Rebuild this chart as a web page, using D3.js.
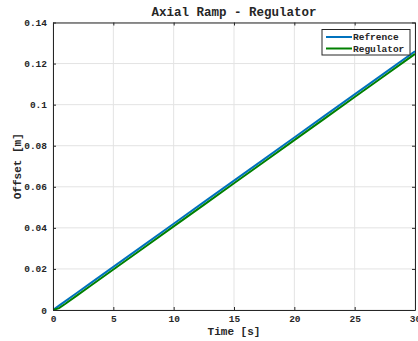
<!DOCTYPE html>
<html>
<head>
<meta charset="utf-8">
<script src="https://cdn.jsdelivr.net/npm/d3@7"></script>
<style>
  html, body { margin: 0; padding: 0; background: #fff; overflow: hidden; }
  svg { display: block; }
  text { font-family: "Liberation Mono", "DejaVu Sans Mono", monospace; font-weight: bold; fill: #262626; }
</style>
</head>
<body>
<svg id="chart" width="418" height="341"></svg>
<script>
// Simulation time samples [s]
const time = [0, 0.5, 1, 2, 3, 5, 7.5, 10, 12.5, 15, 17.5, 20, 22.5, 25, 27.5, 30];
// Commanded axial ramp [m]
const reference = [0, 0.0021, 0.0042, 0.0084, 0.0126, 0.021, 0.0315, 0.042, 0.0525, 0.063, 0.0735, 0.084, 0.0945, 0.105, 0.1155, 0.126];
// Regulated axial offset [m]
const regulator = [0, 0.0009, 0.0029, 0.0071, 0.0113, 0.0197, 0.0302, 0.0407, 0.0512, 0.0617, 0.0722, 0.0827, 0.0932, 0.1037, 0.1142, 0.1247];
const xTicks = [0, 5, 10, 15, 20, 25, 30];
const yTicks = [0, 0.02, 0.04, 0.06, 0.08, 0.1, 0.12, 0.14];
const seriesNames = ["Refrence", "Regulator"];
const seriesColors = ["#0072BD", "#008000"];

const svg = d3.select("#chart");
const m = { left: 53, right: 415, top: 22.5, bottom: 310 };

const x = d3.scaleLinear().domain([0, 30]).range([m.left, m.right]);
const y = d3.scaleLinear().domain([0, 0.14]).range([m.bottom, m.top]);

// grid
const grid = svg.append("g");
grid.selectAll(".gx").data(xTicks).join("line")
  .attr("x1", d => x(d)).attr("x2", d => x(d))
  .attr("y1", m.top).attr("y2", m.bottom)
  .attr("stroke", "#e3e3e3").attr("stroke-width", 1);
grid.selectAll(".gy").data(yTicks).join("line")
  .attr("y1", d => y(d)).attr("y2", d => y(d))
  .attr("x1", m.left).attr("x2", m.right)
  .attr("stroke", "#e3e3e3").attr("stroke-width", 1);

// data lines
const line = d3.line().x((d, i) => x(time[i])).y(d => y(d));
svg.append("defs").append("clipPath").attr("id", "clip")
  .append("rect").attr("x", m.left).attr("y", m.top)
  .attr("width", m.right - m.left).attr("height", m.bottom - m.top);
const plots = svg.append("g").attr("clip-path", "url(#clip)");
[reference, regulator].forEach((s, i) => {
  plots.append("path").datum(s).attr("d", line)
    .attr("fill", "none").attr("stroke", seriesColors[i]).attr("stroke-width", 2);
});

// axes (ticks inward, box on all sides)
const fmtY = d => d === 0 ? "0" : String(+d.toFixed(2));
const axB = svg.append("g").attr("transform", `translate(0,${m.bottom})`)
  .call(d3.axisBottom(x).tickValues(xTicks).tickSizeInner(-3).tickSizeOuter(0).tickPadding(6));
const axT = svg.append("g").attr("transform", `translate(0,${m.top})`)
  .call(d3.axisTop(x).tickValues(xTicks).tickSizeInner(-3).tickSizeOuter(0).tickFormat(""));
const axL = svg.append("g").attr("transform", `translate(${m.left},0)`)
  .call(d3.axisLeft(y).tickValues(yTicks).tickFormat(fmtY).tickSizeInner(-3).tickSizeOuter(0).tickPadding(6));
const axR = svg.append("g").attr("transform", `translate(${m.right},0)`)
  .call(d3.axisRight(y).tickValues(yTicks).tickSizeInner(-3).tickSizeOuter(0).tickFormat(""));
[axB, axT, axL, axR].forEach(a => {
  a.select(".domain").attr("stroke", "#262626").attr("stroke-width", 1);
  a.selectAll(".tick line").attr("stroke", "#262626");
  a.selectAll("text").attr("font-family", "Liberation Mono").attr("font-weight", "bold")
    .attr("font-size", 9.5).attr("fill", "#262626");
});
axB.selectAll("text").attr("dy", "0.6em");

// title and axis labels
svg.append("text").attr("x", (m.left + m.right) / 2).attr("y", 16)
  .attr("text-anchor", "middle").attr("font-size", 12.5).text("Axial Ramp - Regulator");
svg.append("text").attr("x", (m.left + m.right) / 2).attr("y", 335)
  .attr("text-anchor", "middle").attr("font-size", 11).text("Time [s]");
svg.append("text").attr("transform", `translate(21,${(m.top + m.bottom) / 2}) rotate(-90)`)
  .attr("text-anchor", "middle").attr("font-size", 11).text("Offset [m]");

// legend
const lg = svg.append("g");
lg.append("rect").attr("x", 322).attr("y", 29.5).attr("width", 88).attr("height", 25.5)
  .attr("fill", "#fff").attr("stroke", "#262626").attr("stroke-width", 1);
seriesNames.forEach((n, i) => {
  const yy = 37 + i * 11.5;
  lg.append("line").attr("x1", 326).attr("x2", 352).attr("y1", yy).attr("y2", yy)
    .attr("stroke", seriesColors[i]).attr("stroke-width", 2);
  lg.append("text").attr("x", 353).attr("y", yy).attr("dy", "0.35em")
    .attr("font-size", 9.5).text(n);
});
</script>
</body>
</html>
